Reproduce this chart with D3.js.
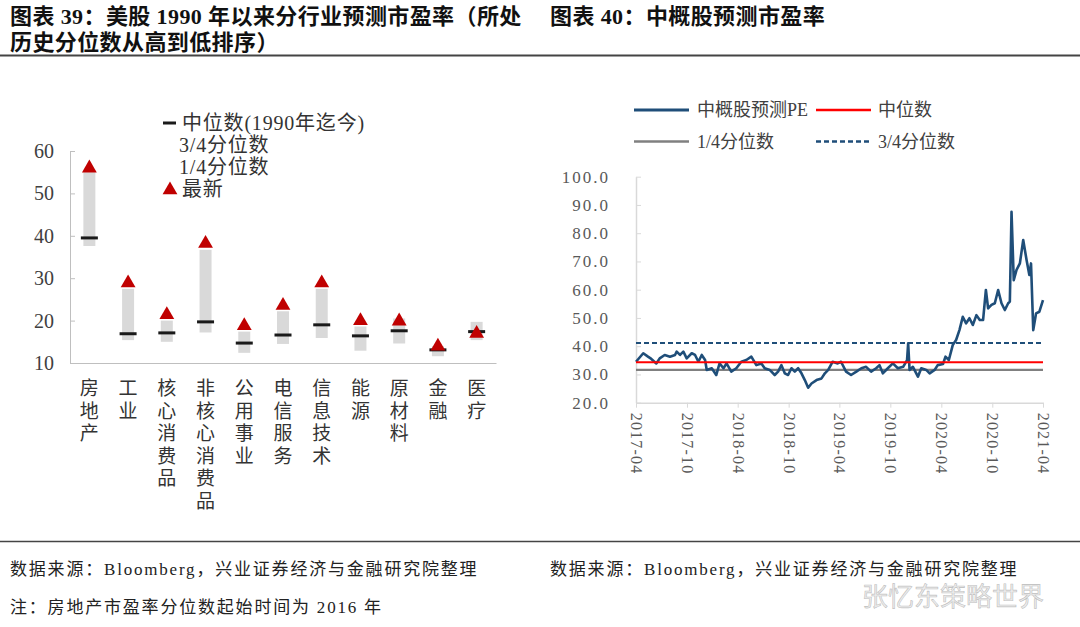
<!DOCTYPE html>
<html>
<head>
<meta charset="utf-8">
<script src="https://cdn.jsdelivr.net/npm/d3@7"></script>
<style>
  html, body { margin: 0; padding: 0; background: #fff; }
  svg { display: block; }
  text { font-family: "Liberation Serif", "Noto Sans CJK SC", serif; }
</style>
</head>
<body>
<svg id="chart" width="1080" height="627"></svg>
<script>
// ---------- Left chart data (美股分行业预测市盈率) ----------
const categories = ["房地产","工业","核心消费品","非核心消费品","公用事业","电信服务","信息技术","能源","原材料","金融","医疗"];
const q1Values     = [37.6, 15.4, 15.0, 17.2, 12.4, 14.5, 15.9, 12.9, 14.6, 11.6, 15.4];
const q3Values     = [55.0, 27.5, 20.0, 36.7, 17.4, 22.2, 27.5, 18.6, 20.5, 14.0, 19.7];
const medianValues = [39.5, 16.9, 17.1, 19.7, 14.7, 16.6, 19.0, 16.4, 17.6, 13.1, 17.4];
const latestValues = [56.2, 29.1, 21.6, 38.4, 19.0, 23.8, 29.1, 20.2, 20.1, 14.2, 17.2];
const leftTicks = [10, 20, 30, 40, 50, 60];
const leftLegend = ["中位数(1990年迄今)", "3/4分位数", "1/4分位数", "最新"];

// ---------- Right chart data (中概股预测PE) ----------
const peDates = ["2017-04-01","2017-04-27","2017-05-14","2017-05-26","2017-06-13","2017-06-25","2017-07-13","2017-08-01","2017-08-19","2017-08-25","2017-09-06","2017-09-18","2017-09-30","2017-10-18","2017-10-30","2017-11-11","2017-11-23","2017-12-05","2017-12-11","2017-12-29",
"2018-01-14","2018-01-26","2018-02-09","2018-02-20","2018-03-09","2018-03-27","2018-04-14","2018-05-02","2018-05-20","2018-06-07","2018-06-25","2018-07-07","2018-07-25","2018-08-12","2018-08-24","2018-09-05","2018-09-17","2018-09-29","2018-10-11","2018-10-23","2018-11-04","2018-11-16","2018-11-28","2018-12-10","2018-12-22",
"2019-01-09","2019-01-27","2019-02-08","2019-02-20","2019-03-08","2019-03-26","2019-04-07","2019-04-25","2019-05-13","2019-06-01","2019-06-19","2019-07-06","2019-07-24","2019-08-11","2019-08-23","2019-09-04","2019-09-22","2019-10-10","2019-10-28","2019-11-16","2019-11-30","2019-12-04","2019-12-09","2019-12-21",
"2020-01-08","2020-01-20","2020-02-07","2020-02-19","2020-03-08","2020-03-19","2020-04-07","2020-04-16","2020-04-28","2020-05-12","2020-05-24","2020-06-05","2020-06-17","2020-06-29","2020-07-11","2020-07-23","2020-08-05","2020-08-17","2020-08-29","2020-09-08","2020-09-16","2020-09-28","2020-10-10","2020-10-22","2020-11-03","2020-11-15","2020-11-27","2020-12-03","2020-12-09","2020-12-17","2020-12-27",
"2021-01-08","2021-01-20","2021-02-01","2021-02-11","2021-02-17","2021-02-25","2021-03-07","2021-03-19","2021-04-01"];
const peValues = [34.5,37.5,36.3,35.5,33.9,35.7,36.9,36.3,36.9,38.1,
36.9,38.1,35.7,37.5,36.9,34.5,36.9,35.1,31.6,32.2,
29.8,33.9,32.2,33.9,31.0,32.2,34.5,35.1,36.3,33.3,
33.9,32.2,31.6,29.8,31.0,33.3,30.4,29.8,32.2,31.0,
32.2,30.4,28.0,25.3,26.8,28.0,28.6,30.4,31.6,34.5,
33.9,34.5,31.0,29.8,31.0,32.2,32.7,31.0,32.2,33.3,
30.4,32.2,33.9,32.2,32.7,35.1,41.0,31.6,32.7,29.2,
32.2,31.6,30.4,31.6,33.3,33.7,36.3,35.1,40.4,42.2,
45.7,50.4,48.1,49.9,47.5,51.0,49.3,49.3,59.9,53.4,
54.6,55.2,59.9,55.2,52.8,55.2,55.8,87.6,63.4,67.0,
69.3,77.6,70.5,65.2,69.3,45.7,51.6,52.2,56.3];
const peMedian = 34.3;
const peQ1 = 31.6;
const peQ3 = 41.1;
const rightYTicks = [20, 30, 40, 50, 60, 70, 80, 90, 100];
const rightXTickLabels = ["2017-04","2017-10","2018-04","2018-10","2019-04","2019-10","2020-04","2020-10","2021-04"];
const rightLegend = ["中概股预测PE", "中位数", "1/4分位数", "3/4分位数"];

// ---------- Texts ----------
const titleLeft = ["图表 39：美股 1990 年以来分行业预测市盈率（所处", "历史分位数从高到低排序）"];
const titleRight = "图表 40：中概股预测市盈率";
const sourceText = "数据来源：Bloomberg，兴业证券经济与金融研究院整理";
const noteText = "注：房地产市盈率分位数起始时间为 2016 年";
const watermark = "张忆东策略世界";

const svg = d3.select("#chart");

// ---------- Header ----------
const tl = svg.append("g").attr("font-weight", "bold").attr("font-size", 22).attr("fill", "#111")
  .attr("letter-spacing", 0.4);
tl.append("text").attr("x", 10).attr("y", 24).text(titleLeft[0]);
tl.append("text").attr("x", 10).attr("y", 50).text(titleLeft[1]);
tl.append("text").attr("x", 550).attr("y", 24).text(titleRight);
svg.append("line").attr("x1", 0).attr("x2", 1080).attr("y1", 55.5).attr("y2", 55.5)
  .attr("stroke", "#444").attr("stroke-width", 2);

// ---------- Footer ----------
svg.append("line").attr("x1", 0).attr("x2", 1080).attr("y1", 541.5).attr("y2", 541.5)
  .attr("stroke", "#444").attr("stroke-width", 1.5);
const ft = svg.append("g").attr("font-size", 17).attr("fill", "#222").attr("letter-spacing", 1.8);
ft.append("text").attr("x", 10).attr("y", 575).text(sourceText);
ft.append("text").attr("x", 550).attr("y", 575).text(sourceText);
ft.append("text").attr("x", 10).attr("y", 613).text(noteText);
svg.append("text").attr("x", 862).attr("y", 606).attr("font-size", 26)
  .attr("font-family", "Noto Sans CJK SC").attr("fill", "#e6e6e6").attr("fill-opacity", 0.75)
  .attr("stroke", "#9a9a9a").attr("stroke-width", 0.6).attr("stroke-opacity", 0.6)
  .text(watermark);

// ---------- Left chart ----------
const xL = d3.scaleBand().domain(categories).range([70, 496]).padding(0);
const yL = d3.scaleLinear().domain([10, 60]).range([363, 151]);
const L = svg.append("g");

// y axis
const yAxisL = d3.axisLeft(yL).tickValues(leftTicks).tickSizeInner(-5).tickSizeOuter(0).tickPadding(16);
const gyL = L.append("g").attr("transform", "translate(70,0)").call(yAxisL);
gyL.select(".domain").attr("stroke", "#bfbfbf");
gyL.selectAll(".tick line").attr("stroke", "#bfbfbf");
gyL.selectAll(".tick text").attr("font-size", 20).attr("fill", "#404040")
  .attr("font-family", "Liberation Serif");
// x axis
const xAxisL = d3.axisBottom(xL).tickSize(0).tickFormat("");
const gxL = L.append("g").attr("transform", "translate(0,363)").call(xAxisL);
gxL.select(".domain").attr("stroke", "#bfbfbf");

const rows = categories.map((c, i) => ({c, q1: q1Values[i], q3: q3Values[i], med: medianValues[i], last: latestValues[i]}));
const cx = d => xL(d.c) + xL.bandwidth() / 2;

L.selectAll("rect.iqr").data(rows).join("rect").attr("class", "iqr")
  .attr("x", d => cx(d) - 6).attr("width", 12)
  .attr("y", d => yL(d.q3)).attr("height", d => yL(d.q1) - yL(d.q3))
  .attr("fill", "#d9d9d9");
L.selectAll("rect.med").data(rows).join("rect").attr("class", "med")
  .attr("x", d => cx(d) - 8.5).attr("width", 17)
  .attr("y", d => yL(d.med) - 1.5).attr("height", 3)
  .attr("fill", "#1a1a1a");
const tri = d3.symbol().type(d3.symbolTriangle).size(95);
L.selectAll("path.last").data(rows).join("path").attr("class", "last")
  .attr("d", tri)
  .attr("transform", d => `translate(${cx(d)},${yL(d.last) + 1})`)
  .attr("fill", "#c00000");

// category labels (vertical)
const catG = L.selectAll("text.cat").data(categories).join("text").attr("class", "cat")
  .attr("font-size", 19).attr("fill", "#333").attr("text-anchor", "middle")
  .attr("font-family", "Noto Sans CJK SC");
catG.each(function(c) {
  const t = d3.select(this);
  const x = xL(c) + xL.bandwidth() / 2;
  Array.from(c).forEach((ch, k) => {
    t.append("tspan").attr("x", x).attr("y", 395 + k * 22.5).text(ch);
  });
});

// left legend
const lg = L.append("g").attr("font-size", 20).attr("fill", "#333").attr("letter-spacing", 0.8);
lg.append("rect").attr("x", 163).attr("y", 121.5).attr("width", 13).attr("height", 3).attr("fill", "#1a1a1a");
lg.append("text").attr("x", 182).attr("y", 130).text(leftLegend[0]);
lg.append("text").attr("x", 179).attr("y", 152).text(leftLegend[1]);
lg.append("text").attr("x", 179).attr("y", 174).text(leftLegend[2]);
lg.append("path").attr("d", tri).attr("transform", "translate(170,190)").attr("fill", "#c00000");
lg.append("text").attr("x", 182).attr("y", 196).text(leftLegend[3]);

// ---------- Right chart ----------
const parse = d3.timeParse("%Y-%m-%d");
const parseM = d3.timeParse("%Y-%m");
const xTicks = rightXTickLabels.map(parseM);
const xR = d3.scaleTime().domain([xTicks[0], xTicks[xTicks.length - 1]]).range([636, 1043]);
const yR = d3.scaleLinear().domain([20, 100]).range([402.7, 176.7]);
const R = svg.append("g");

const yAxisR = d3.axisLeft(yR).tickValues(rightYTicks).tickFormat(d3.format(".1f"))
  .tickSizeInner(-5).tickSizeOuter(0).tickPadding(26);
const gyR = R.append("g").attr("transform", "translate(636,0)").call(yAxisR);
gyR.select(".domain").attr("stroke", "#d9d9d9").attr("stroke-width", 1.5);
gyR.selectAll(".tick line").attr("stroke", "#d9d9d9");
gyR.selectAll(".tick text").attr("font-size", 17).attr("fill", "#595959")
  .attr("letter-spacing", 2).attr("font-family", "Liberation Serif");

const xAxisR = d3.axisBottom(xR).tickValues(xTicks).tickFormat(d3.timeFormat("%Y-%m"))
  .tickSizeInner(5).tickSizeOuter(0);
const gxR = R.append("g").attr("transform", "translate(0,402.7)").call(xAxisR);
gxR.select(".domain").attr("stroke", "#d9d9d9").attr("stroke-width", 1.5);
gxR.selectAll(".tick line").attr("stroke", "#d9d9d9");
gxR.selectAll(".tick text").attr("font-size", 16).attr("fill", "#595959")
  .attr("letter-spacing", 1.2).attr("font-family", "Liberation Serif")
  .attr("text-anchor", "start").attr("transform", "rotate(90)")
  .attr("x", 10).attr("y", 0).attr("dy", "0.35em");

const [x0, x1] = xR.range();
R.append("line").attr("x1", x0).attr("x2", x1).attr("y1", yR(peQ1)).attr("y2", yR(peQ1))
  .attr("stroke", "#808080").attr("stroke-width", 2.2);
R.append("line").attr("x1", x0).attr("x2", x1).attr("y1", yR(peQ3)).attr("y2", yR(peQ3))
  .attr("stroke", "#1f4e79").attr("stroke-width", 2).attr("stroke-dasharray", "5,3");

const pe = peDates.map((d, i) => ({d: parse(d), v: peValues[i]}));
R.append("path").datum(pe)
  .attr("d", d3.line().x(d => xR(d.d)).y(d => yR(d.v)))
  .attr("fill", "none").attr("stroke", "#1f4e79").attr("stroke-width", 2.6)
  .attr("stroke-linejoin", "round");

R.append("line").attr("x1", x0).attr("x2", x1).attr("y1", yR(peMedian)).attr("y2", yR(peMedian))
  .attr("stroke", "#ff0000").attr("stroke-width", 2);

// right legend
const rl = R.append("g").attr("font-size", 18).attr("fill", "#404040");
rl.append("line").attr("x1", 634).attr("x2", 689).attr("y1", 110).attr("y2", 110).attr("stroke", "#1f4e79").attr("stroke-width", 3);
rl.append("text").attr("x", 697).attr("y", 116).text(rightLegend[0]);
rl.append("line").attr("x1", 816).attr("x2", 871).attr("y1", 110).attr("y2", 110).attr("stroke", "#ff0000").attr("stroke-width", 2.5);
rl.append("text").attr("x", 878).attr("y", 116).text(rightLegend[1]);
rl.append("line").attr("x1", 634).attr("x2", 689).attr("y1", 141.5).attr("y2", 141.5).attr("stroke", "#808080").attr("stroke-width", 2.5);
rl.append("text").attr("x", 697).attr("y", 148).text(rightLegend[2]);
rl.append("line").attr("x1", 816).attr("x2", 871).attr("y1", 141.5).attr("y2", 141.5).attr("stroke", "#1f4e79").attr("stroke-width", 2.5).attr("stroke-dasharray", "5,3");
rl.append("text").attr("x", 878).attr("y", 148).text(rightLegend[3]);
</script>
</body>
</html>
